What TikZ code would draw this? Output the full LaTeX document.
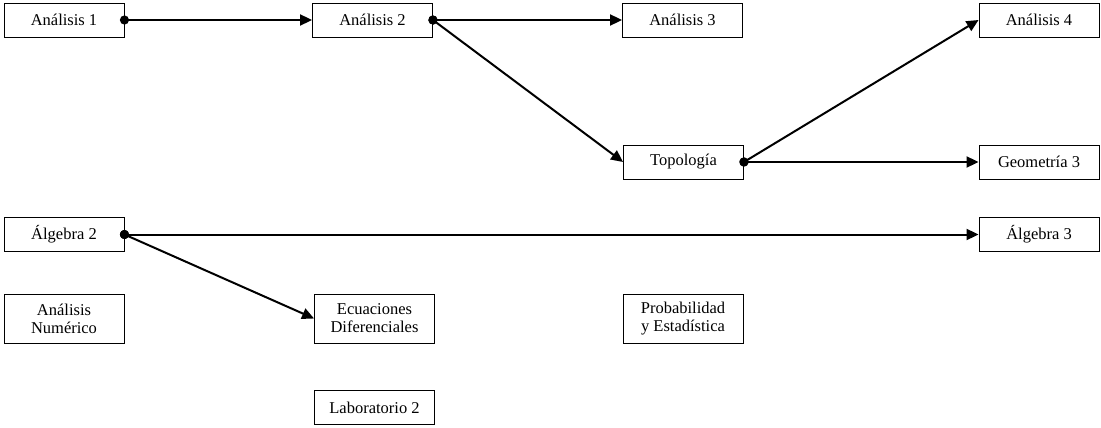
\documentclass[tikz,border=0pt]{standalone}
\usepackage{fontspec}
\setmainfont{Liberation Serif}
\usetikzlibrary{arrows.meta}
\tikzset{
  materia/.style={draw, line width=0.9pt, minimum width=120pt, minimum height=34pt,
    inner sep=2pt, align=center, font=\fontsize{16.5}{18}\selectfont},
  doble/.style={materia, minimum height=49pt},
  flecha/.style={line width=2pt, {Circle[length=9pt]}-{Triangle[length=12pt,width=11pt]},
    shorten <=-4.5pt}
}
\begin{document}
\begin{tikzpicture}[x=1pt,y=-1pt]
\useasboundingbox (0,0) rectangle (1101,428);

% fila de analisis
\node (an1) at (64,20) [materia] {Análisis 1};
\node (an2) at (372.5,20) [materia] {Análisis 2};
\node (an3) at (682.5,20) [materia] {Análisis 3};
\node (an4) at (1039,20) [materia] {Análisis 4};

\node (top) at (683.5,162) [materia] {Topología};
\node (geo3) at (1039,162) [materia] {Geometría 3};

% algebra
\node (alg2) at (64,234.5) [materia] {Álgebra 2};
\node (alg3) at (1039,234.5) [materia] {Álgebra 3};

\node (anum) at (64,318.5) [doble] {Análisis\\Numérico};
\node (ecd) at (374.5,318.5) [doble] {Ecuaciones\\Diferenciales};
\node (pye) at (683,318.5) [doble] {Probabilidad\\y Estadística};
\node (lab2) at (374.5,407.5) [materia] {Laboratorio 2};

\draw [flecha] (an1.east) -- (an2.west);
\draw [flecha] (an2.east) -- (an3.west);
\draw [flecha] (an2.east) -- (top.west);
\draw [flecha] (top.east) -- (an4.west);
\draw [flecha] (top.east) -- (geo3.west);
\draw [flecha] (alg2.east) -- (alg3.west);
\draw [flecha] (alg2.east) -- (ecd.west);
\end{tikzpicture}
\end{document}
